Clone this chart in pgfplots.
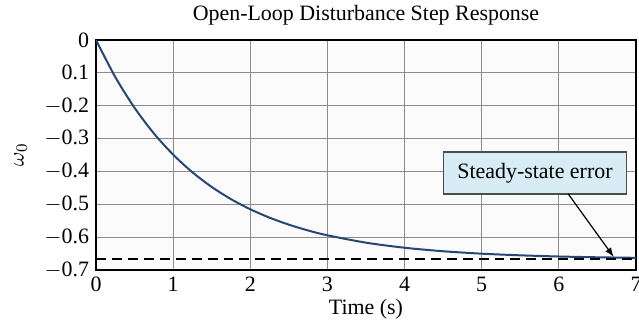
\documentclass[border=0pt]{standalone}
\usepackage{pgfplots}
\pgfplotsset{compat=1.18}
\usepackage{fontspec}
\setmainfont{Liberation Serif}
\definecolor{curveblue}{RGB}{40,70,115}
\definecolor{boxblue}{RGB}{215,236,244}
\definecolor{gridgray}{RGB}{140,140,140}
\begin{document}
\begin{tikzpicture}
\begin{axis}[
  name=ax,
  scale only axis,
  width=270bp, height=115bp,
  xmin=0, xmax=7, ymin=-0.7, ymax=0,
  xtick={0,1,...,7},
  ytick={0,-0.1,-0.2,-0.3,-0.4,-0.5,-0.6,-0.7},
  yticklabels={0,0.1,$-$0.2,$-$0.3,$-$0.4,$-$0.5,$-$0.6,$-$0.7},
  xticklabel style={font=\fontsize{11}{12}\selectfont},
  yticklabel style={font=\fontsize{11}{12}\selectfont},
  /pgf/number format/assume math mode=true,
  grid=major,
  major grid style={gridgray, line width=0.5pt},
  tick style={draw=none},
  axis line style={line width=0.8pt},
  axis background/.style={fill=white!98.5!black},
  title={Open-Loop Disturbance Step Response},
  title style={font=\fontsize{11}{12}\selectfont, yshift=-2bp},
  xlabel={Time (s)},
  xlabel style={font=\fontsize{11}{12}\selectfont, yshift=3bp},
  ylabel={$\omega_0$},
  ylabel style={font=\fontsize{11}{12}\selectfont, yshift=2bp},
]
\addplot[curveblue, line width=1pt, smooth] coordinates {
  (0,0) (0.25,-0.1127) (0.5,-0.2064) (0.75,-0.2842) (1.0,-0.3488)
  (1.25,-0.4025) (1.5,-0.4472) (1.75,-0.4843) (2.0,-0.5151)
  (2.25,-0.5407) (2.5,-0.5620) (2.75,-0.5797) (3.0,-0.5944)
  (3.5,-0.6168) (4.0,-0.6322) (4.5,-0.6429) (5.0,-0.6503)
  (5.5,-0.6553) (6.0,-0.6589) (6.5,-0.6613) (7.0,-0.6629)
};
\addplot[black, line width=0.8pt, dash pattern=on 5pt off 3pt] coordinates {(0,-0.667) (7,-0.667)};
\node[draw=black!70, fill=boxblue, line width=0.6pt, inner xsep=7bp, minimum height=21bp,
      font=\fontsize{11}{12}\selectfont] at (axis cs:5.69,-0.405) {Steady-state error};
\draw[-latex, line width=0.6pt] (axis cs:6.12,-0.468) -- (axis cs:6.71,-0.66);
\end{axis}
\pgfresetboundingbox
\path ([xshift=-48bp,yshift=-32bp]ax.south west) rectangle ([xshift=1.5bp,yshift=20bp]ax.north east);
\end{tikzpicture}
\end{document}
